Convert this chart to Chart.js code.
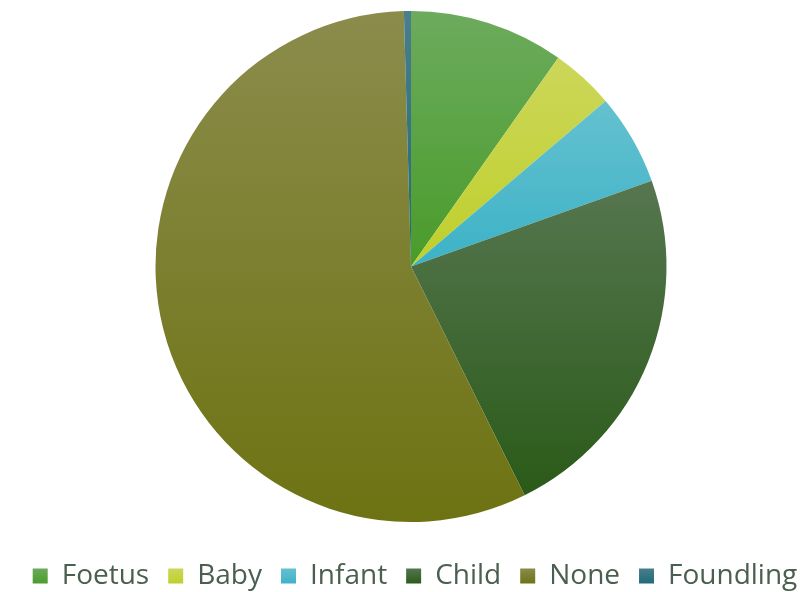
<!DOCTYPE html>
<html>
<head>
<meta charset="utf-8">
<script src="https://cdn.jsdelivr.net/npm/chart.js@4.4.1/dist/chart.umd.min.js"></script>
<style>
  html, body { margin: 0; padding: 0; background: #ffffff; }
  #wrap { width: 810px; height: 592px; position: relative; }
</style>
</head>
<body>
<div id="wrap"><canvas id="pieChart"></canvas></div>
<script>
const categories = ["Foetus", "Baby", "Infant", "Child", "None", "Foundling"];
const counts = [22, 9, 13, 52, 128, 1];

// light (top) and dark (bottom) shade of every slice
const topColors = ["#6cab5d", "#ccd75a", "#65c1cf", "#567650", "#8b8c4c", "#4a7e8c"];
const bottomColors = ["#4a9b2a", "#bfcf2a", "#3cb2c7", "#2a5a18", "#6d7312", "#1f6a78"];

const total = counts.reduce((a, b) => a + b, 0);

// vertical gradient across the bounding box of one slice
function sliceGradient(context) {
    const chart = context.chart;
    const i = context.dataIndex;
    const area = chart.chartArea;
    if (!area || i === undefined) return bottomColors[i] || "#888";
    const cx = (area.left + area.right) / 2;
    const cy = (area.top + area.bottom) / 2;
    const r = Math.min(area.right - area.left, area.bottom - area.top) / 2;
    let before = 0;
    for (let k = 0; k < i; k++) before += counts[k];
    const a0 = -Math.PI / 2 + 2 * Math.PI * before / total;
    const a1 = a0 + 2 * Math.PI * counts[i] / total;
    const ys = [cy, cy + r * Math.sin(a0), cy + r * Math.sin(a1)];
    const has = a => (a0 <= a && a <= a1) || (a0 <= a + 2 * Math.PI && a + 2 * Math.PI <= a1);
    if (has(-Math.PI / 2)) ys.push(cy - r);
    if (has(Math.PI / 2)) ys.push(cy + r);
    const g = chart.ctx.createLinearGradient(0, Math.min(...ys), 0, Math.max(...ys));
    g.addColorStop(0, topColors[i]);
    g.addColorStop(1, bottomColors[i]);
    return g;
}

const ctx = document.getElementById("pieChart").getContext("2d");

const pieChart = new Chart(ctx, {
    type: "pie",
    data: {
        labels: categories,
        datasets: [{
            data: counts,
            backgroundColor: sliceGradient,
            borderWidth: 0
        }]
    },
    options: {
        responsive: true,
        maintainAspectRatio: false,
        animation: false,
        layout: { padding: { top: 11, left: 12, right: -8, bottom: -8 } },
        plugins: {
            tooltip: { enabled: false },
            legend: {
                position: "bottom",
                // empty title only used as spacing above the legend row
                title: { display: true, text: "", font: { size: 21, lineHeight: 1 }, padding: 0 },
                labels: {
                    font: { family: "'Open Sans', sans-serif", size: 28 },
                    color: "#4b5f50",
                    boxWidth: 15,
                    boxHeight: 15,
                    padding: 19,
                    generateLabels(chart) {
                        const g = (i) => {
                            const lg = chart.ctx.createLinearGradient(0, 568, 0, 584);
                            lg.addColorStop(0, topColors[i]);
                            lg.addColorStop(1, bottomColors[i]);
                            return lg;
                        };
                        return categories.map((c, i) => ({
                            text: c,
                            fillStyle: g(i),
                            strokeStyle: "rgba(0,0,0,0)",
                            lineWidth: 0,
                            fontColor: "#4b5f50",
                            hidden: false,
                            index: i
                        }));
                    }
                }
            }
        }
    }
});
</script>
</body>
</html>
